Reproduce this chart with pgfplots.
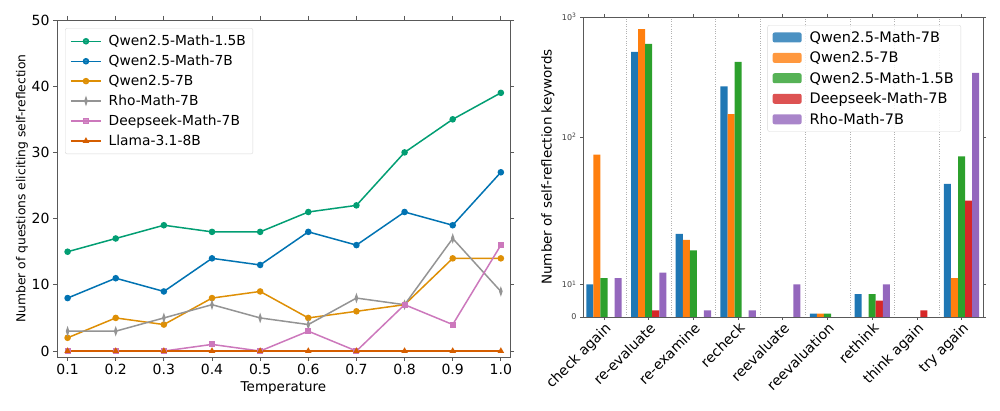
\documentclass[border=0pt]{standalone}
\usepackage{pgfplots}
\pgfplotsset{compat=1.18}
\usepackage{fontspec}
\setmainfont{DejaVu Sans}

% seaborn colorblind
\definecolor{sbblue}{HTML}{0173B2}
\definecolor{sborange}{HTML}{DE8F05}
\definecolor{sbgreen}{HTML}{029E73}
\definecolor{sbred}{HTML}{D55E00}
\definecolor{sbpink}{HTML}{CC78BC}
\definecolor{sbgray}{HTML}{949494}
% tab10
\definecolor{tabblue}{HTML}{1F77B4}
\definecolor{taborange}{HTML}{FF7F0E}
\definecolor{tabgreen}{HTML}{2CA02C}
\definecolor{tabred}{HTML}{D62728}
\definecolor{tabpurple}{HTML}{9467BD}

\begin{document}
\begin{tikzpicture}[x=1pt,y=1pt]
\useasboundingbox (0,0) rectangle (1000,411);

% left: questions vs temperature
\begin{axis}[
    at={(57pt,54pt)}, anchor=south west, scale only axis,
    width=453pt, height=337pt,
    xmin=0.078, xmax=1.019, ymin=-0.9, ymax=50,
    xtick={0.1,0.2,0.3,0.4,0.5,0.6,0.7,0.8,0.9,1.0},
    xticklabels={0.1,0.2,0.3,0.4,0.5,0.6,0.7,0.8,0.9,1.0},
    ytick={0,10,20,30,40,50},
    /pgf/number format/assume math mode=true,
    tick align=outside, major tick length=4pt,
    tick style={black!65, line width=0.8pt},
    axis line style={black!65, line width=0.8pt},
    ticklabel style={font=\fontsize{14}{16}\selectfont},
    xlabel={Temperature},
    ylabel={Number of questions eliciting self-reflection},
    xlabel style={at={(axis description cs:0.5,-0.092)}, anchor=center, font=\fontsize{13.5}{15}\selectfont},
    ylabel style={at={(axis description cs:-0.0773,0.5)}, anchor=center, font=\fontsize{12.3}{14}\selectfont},
    legend style={at={(0.0177,0.976)}, anchor=north west,
        draw=black!15, rounded corners=2pt, fill=white, fill opacity=0.8, text opacity=1,
        font=\fontsize{13.8}{15}\selectfont, row sep=4pt,
        inner xsep=5pt, inner ysep=5pt},
    legend cell align=left,
    legend image code/.code={\draw[mark repeat=2,mark phase=2,#1] plot coordinates {(0pt,0pt) (15pt,0pt) (30pt,0pt)};
        \path (35pt,0pt);},
]
\addplot[color=sbgreen, line width=1.5pt, mark=*, mark size=2.5pt, mark options={solid}] coordinates {
    (0.1,15) (0.2,17) (0.3,19) (0.4,18) (0.5,18) (0.6,21) (0.7,22) (0.8,30) (0.9,35) (1.0,39)};
\addlegendentry{Qwen2.5-Math-1.5B}
\addplot[color=sbblue, line width=1.5pt, mark=*, mark size=2.5pt, mark options={solid}] coordinates {
    (0.1,8) (0.2,11) (0.3,9) (0.4,14) (0.5,13) (0.6,18) (0.7,16) (0.8,21) (0.9,19) (1.0,27)};
\addlegendentry{Qwen2.5-Math-7B}
\addplot[color=sborange, line width=1.5pt, mark=*, mark size=2.5pt, mark options={solid}] coordinates {
    (0.1,2) (0.2,5) (0.3,4) (0.4,8) (0.5,9) (0.6,5) (0.7,6) (0.8,7) (0.9,14) (1.0,14)};
\addlegendentry{Qwen2.5-7B}
\addplot[color=sbgray, line width=1.5pt, mark=diamond*, mark size=3pt, mark options={solid, xscale=0.45}] coordinates {
    (0.1,3) (0.2,3) (0.3,5) (0.4,7) (0.5,5) (0.6,4) (0.7,8) (0.8,7) (0.9,17) (1.0,9)};
\addlegendentry{Rho-Math-7B}
\addplot[color=sbpink, line width=1.5pt, mark=square*, mark size=2.3pt, mark options={solid}] coordinates {
    (0.1,0) (0.2,0) (0.3,0) (0.4,1) (0.5,0) (0.6,3) (0.7,0) (0.8,7) (0.9,4) (1.0,16)};
\addlegendentry{Deepseek-Math-7B}
\addplot[color=sbred, line width=1.5pt, mark=triangle*, mark size=2.3pt, mark options={solid}] coordinates {
    (0.1,0) (0.2,0) (0.3,0) (0.4,0) (0.5,0) (0.6,0) (0.7,0) (0.8,0) (0.9,0) (1.0,0)};
\addlegendentry{Llama-3.1-8B}
\end{axis}

% right: keyword counts, symlog-like y scale
\begin{axis}[
    at={(583pt,94pt)}, anchor=south west, scale only axis,
    width=400pt, height=300pt,
    xmin=-0.47, xmax=8.48, ymin=0, ymax=1000,
    y coord trafo/.code={%
        \begingroup
        \pgfkeys{/pgf/fpu=true}%
        \pgfmathparse{#1}%
        \pgfmathfloattofixed{\pgfmathresult}%
        \let\myv\pgfmathresult
        \pgfkeys{/pgf/fpu=false}%
        \ifdim\myv pt<10pt \pgfmathparse{3.27*\myv}%
        \else\ifdim\myv pt<100pt \pgfmathparse{32.7+147.3*log10(\myv/10)}%
        \else\pgfmathparse{180+120*log10(\myv/100)}\fi\fi
        \xdef\mytrafores{\pgfmathresult}%
        \endgroup
        \let\pgfmathresult\mytrafores
    },
    ytick={0,10,100,1000},
    yticklabels={0,10\textsuperscript{1},10\textsuperscript{2},10\textsuperscript{3}},
    yticklabel style={font=\fontsize{8}{9}\selectfont, text=black!75},
    xtick={0,1,2,3,4,5,6,7,8},
    xticklabels={check again,re-evaluate,re-examine,recheck,reevaluate,reevaluation,rethink,think again,try again},
    xticklabel style={font=\fontsize{14}{16}\selectfont, rotate=45, anchor=north east, inner sep=1pt},
    minor xtick={0.5,1.5,2.5,3.5,4.5,5.5,6.5,7.5},
    xminorgrids, minor grid style={black!30, dotted, line width=0.6pt},
    minor tick length=0pt,
    tick align=outside, major tick length=3pt,
    tick style={black!65, line width=0.6pt},
    axis line style={black!65, line width=0.8pt},
    ylabel={Number of self-reflection keywords},
    ylabel style={at={(axis description cs:-0.0875,0.5)}, anchor=center, font=\fontsize{13.5}{15}\selectfont},
    ybar=0pt, bar width=0.158,
    legend style={at={(0.945,0.9733)}, anchor=north east,
        draw=black!15, rounded corners=2pt, fill=white, fill opacity=0.8, text opacity=1,
        font=\fontsize{14.5}{16}\selectfont, row sep=4pt,
        inner xsep=5pt, inner ysep=4pt},
    legend cell align=left,
    legend image code/.code={\fill[#1] (0pt,-5pt) rectangle (29pt,5pt);
        \path (35pt,0pt);},
]
\addplot[fill=tabblue, draw=none, bar shift=-0.316] coordinates {
    (0,10) (1,511) (2,22) (3,264) (5,1) (6,7) (8,48)};
\addlegendentry{Qwen2.5-Math-7B}
\addplot[fill=taborange, draw=none, bar shift=-0.158] coordinates {
    (0,76) (1,794) (2,20) (3,155) (5,1) (8,11)};
\addlegendentry{Qwen2.5-7B}
\addplot[fill=tabgreen, draw=none, bar shift=0] coordinates {
    (0,11) (1,596) (2,17) (3,422) (5,1) (6,7) (8,74)};
\addlegendentry{Qwen2.5-Math-1.5B}
\addplot[fill=tabred, draw=none, bar shift=0.158] coordinates {
    (1,2) (6,5) (7,2) (8,37)};
\addlegendentry{Deepseek-Math-7B}
\addplot[fill=tabpurple, draw=none, bar shift=0.316] coordinates {
    (0,11) (1,12) (2,2) (3,2) (4,10) (6,10) (8,343)};
\addlegendentry{Rho-Math-7B}
\end{axis}
\end{tikzpicture}
\end{document}
